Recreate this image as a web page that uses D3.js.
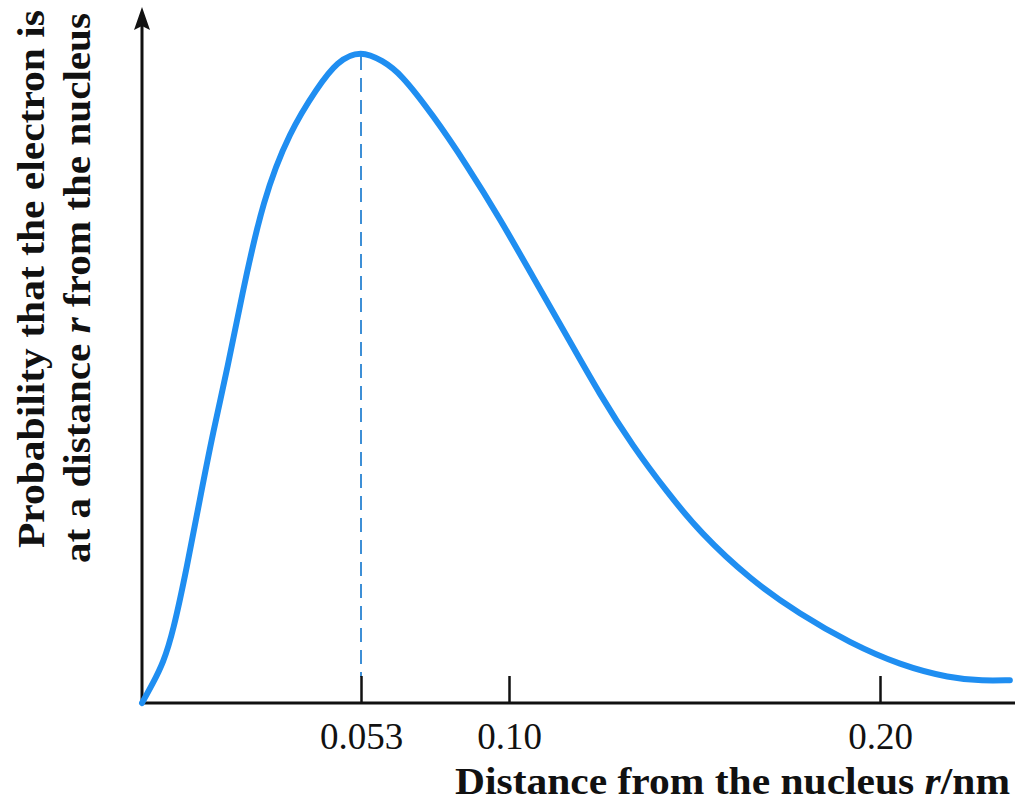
<!DOCTYPE html>
<html>
<head>
<meta charset="utf-8">
<script src="https://cdn.jsdelivr.net/npm/d3@7"></script>
<style>
  body { margin: 0; background: #fff; }
  text { font-family: "Liberation Serif", "DejaVu Serif", serif; fill: #111; }
</style>
</head>
<body>
<div id="chart-area"></div>
<script>
// r in nm, probability normalised so the peak is 1
const rValues = [0, 0.0027, 0.0051, 0.0075, 0.0109, 0.0140, 0.0172, 0.0208, 0.0240, 0.0293,
                 0.0358, 0.0424, 0.0472, 0.053, 0.0600, 0.0654, 0.0759, 0.0867, 0.0971, 0.1065,
                 0.1156, 0.1245, 0.1334, 0.1426, 0.1515, 0.1650, 0.1784, 0.1919, 0.2054, 0.2189,
                 0.2278, 0.2350];
const pValues = [0, 0.031, 0.061, 0.108, 0.209, 0.312, 0.415, 0.516, 0.619, 0.773,
                 0.876, 0.942, 0.983, 1.0, 0.983, 0.965, 0.900, 0.823, 0.742, 0.652,
                 0.562, 0.472, 0.393, 0.323, 0.261, 0.189, 0.136, 0.092, 0.058, 0.038,
                 0.034, 0.035];
const tickValues = [0.053, 0.10, 0.20];
const tickLabels = ["0.053", "0.10", "0.20"];
const peakR = 0.053;

const width = 1015, height = 802;

const svg = d3.select("#chart-area").append('svg')
                .attr("width", width)
                .attr("height", height);

// the printed axis is not quite linear, so use the tick positions as anchors
const x = d3.scaleLinear()
            .domain([0, 0.053, 0.10, 0.20])
            .range([142, 361, 509, 880]);
const y = d3.scaleLinear()
            .domain([0, 1])
            .range([703, 50]);

const data = rValues.map((r, i) => ({r: r, p: pValues[i]}));

// dashed line at the peak
svg.append('line')
    .attr('x1', x(peakR)).attr('x2', x(peakR))
    .attr('y1', y(1) + 6).attr('y2', y(0) - 26)
    .attr('stroke', '#3d8fd6')
    .attr('stroke-width', 2)
    .attr('stroke-dasharray', '14,8');

// x axis
const xAxis = d3.axisBottom(x)
    .tickValues(tickValues)
    .tickFormat((d, i) => tickLabels[i])
    .tickSizeInner(-27)
    .tickSizeOuter(0)
    .tickPadding(20);

const gx = svg.append('g')
    .attr('transform', `translate(0,${y(0)})`)
    .call(xAxis);
gx.select('.domain').remove();
gx.selectAll('.tick line').attr('stroke', '#111').attr('stroke-width', 2.5);
gx.selectAll('.tick text')
    .attr('font-family', '"Liberation Serif", serif')
    .attr('font-size', 37)
    .attr('fill', '#111');

svg.append('line')
    .attr('x1', x(0)).attr('x2', width)
    .attr('y1', y(0)).attr('y2', y(0))
    .attr('stroke', '#111')
    .attr('stroke-width', 3);

// y axis with arrow
const x0 = x(0);
svg.append('line')
    .attr('x1', x0).attr('x2', x0)
    .attr('y1', y(0) + 1).attr('y2', 24)
    .attr('stroke', '#111')
    .attr('stroke-width', 3);
svg.append('path')
    .attr('d', `M${x0},7 L${x0 + 8},30 L${x0},26 L${x0 - 8},30 Z`)
    .attr('fill', '#111');

// the curve
const line = d3.line()
    .x(d => x(d.r))
    .y(d => y(d.p))
    .curve(d3.curveBasis);

svg.append('path')
    .datum(data)
    .attr('d', line)
    .attr('fill', 'none')
    .attr('stroke', '#1f8ef1')
    .attr('stroke-width', 6)
    .attr('stroke-linecap', 'round');

// axis titles
const xt = svg.append('text')
    .attr('x', 455).attr('y', 794)
    .attr('font-size', 37)
    .attr('font-weight', 'bold')
    .attr('textLength', 555)
    .attr('lengthAdjust', 'spacingAndGlyphs');
xt.append('tspan').text('Distance from the nucleus ');
xt.append('tspan').attr('font-style', 'italic').text('r');
xt.append('tspan').text('/nm');

svg.append('text')
    .attr('transform', 'translate(44,548) rotate(-90)')
    .attr('font-size', 37)
    .attr('font-weight', 'bold')
    .attr('textLength', 538)
    .attr('lengthAdjust', 'spacingAndGlyphs')
    .text('Probability that the electron is');

const yt2 = svg.append('text')
    .attr('transform', 'translate(90,563) rotate(-90)')
    .attr('font-size', 37)
    .attr('font-weight', 'bold')
    .attr('textLength', 550)
    .attr('lengthAdjust', 'spacingAndGlyphs');
yt2.append('tspan').text('at a distance ');
yt2.append('tspan').attr('font-style', 'italic').text('r');
yt2.append('tspan').text(' from the nucleus');
</script>
</body>
</html>
